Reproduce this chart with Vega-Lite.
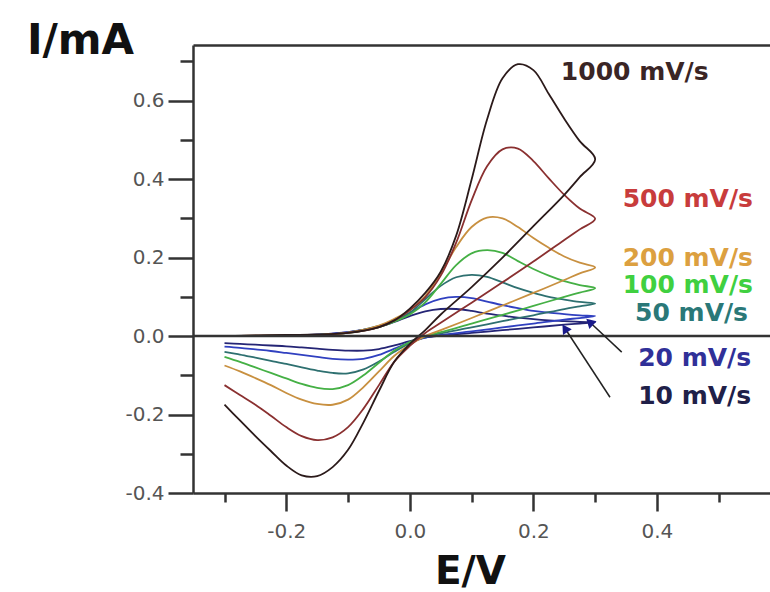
{
  "$schema": "https://vega.github.io/schema/vega-lite/v6.json",
  "width": 577,
  "height": 448,
  "autosize": {"type": "none"},
  "padding": {"left": 193, "top": 45, "right": 0, "bottom": 99},
  "background": "white",
  "config": {"view": {"stroke": null}},
  "datasets": {
    "cv": [
      {"s":"10","o":0,"E":-0.3,"I":0.000},{"s":"10","o":1,"E":-0.2,"I":0.001},{"s":"10","o":2,"E":-0.15,"I":0.004},{"s":"10","o":3,"E":-0.1,"I":0.010},{"s":"10","o":4,"E":-0.05,"I":0.023},{"s":"10","o":5,"E":-0.025,"I":0.036},{"s":"10","o":6,"E":0,"I":0.051},{"s":"10","o":7,"E":0.025,"I":0.063},{"s":"10","o":8,"E":0.05,"I":0.069},{"s":"10","o":9,"E":0.075,"I":0.069},{"s":"10","o":10,"E":0.1,"I":0.064},{"s":"10","o":11,"E":0.125,"I":0.057},{"s":"10","o":12,"E":0.15,"I":0.052},{"s":"10","o":13,"E":0.175,"I":0.047},{"s":"10","o":14,"E":0.2,"I":0.043},{"s":"10","o":15,"E":0.225,"I":0.040},{"s":"10","o":16,"E":0.25,"I":0.038},{"s":"10","o":17,"E":0.275,"I":0.036},{"s":"10","o":18,"E":0.3,"I":0.035},
      {"s":"10","o":19,"E":0.275,"I":0.032},{"s":"10","o":20,"E":0.25,"I":0.029},{"s":"10","o":21,"E":0.2,"I":0.022},{"s":"10","o":22,"E":0.15,"I":0.015},{"s":"10","o":23,"E":0.1,"I":0.008},{"s":"10","o":24,"E":0.05,"I":0.001},{"s":"10","o":25,"E":0.025,"I":-0.004},{"s":"10","o":26,"E":0,"I":-0.013},{"s":"10","o":27,"E":-0.025,"I":-0.024},{"s":"10","o":28,"E":-0.05,"I":-0.033},{"s":"10","o":29,"E":-0.075,"I":-0.037},{"s":"10","o":30,"E":-0.1,"I":-0.037},{"s":"10","o":31,"E":-0.125,"I":-0.035},{"s":"10","o":32,"E":-0.15,"I":-0.032},{"s":"10","o":33,"E":-0.175,"I":-0.029},{"s":"10","o":34,"E":-0.2,"I":-0.026},{"s":"10","o":35,"E":-0.225,"I":-0.024},{"s":"10","o":36,"E":-0.25,"I":-0.022},{"s":"10","o":37,"E":-0.275,"I":-0.020},{"s":"10","o":38,"E":-0.3,"I":-0.018},

      {"s":"20","o":0,"E":-0.3,"I":0.000},{"s":"20","o":1,"E":-0.2,"I":0.001},{"s":"20","o":2,"E":-0.15,"I":0.003},{"s":"20","o":3,"E":-0.1,"I":0.010},{"s":"20","o":4,"E":-0.05,"I":0.024},{"s":"20","o":5,"E":-0.025,"I":0.038},{"s":"20","o":6,"E":0,"I":0.059},{"s":"20","o":7,"E":0.025,"I":0.081},{"s":"20","o":8,"E":0.05,"I":0.095},{"s":"20","o":9,"E":0.075,"I":0.100},{"s":"20","o":10,"E":0.1,"I":0.097},{"s":"20","o":11,"E":0.125,"I":0.088},{"s":"20","o":12,"E":0.15,"I":0.079},{"s":"20","o":13,"E":0.175,"I":0.071},{"s":"20","o":14,"E":0.2,"I":0.064},{"s":"20","o":15,"E":0.225,"I":0.060},{"s":"20","o":16,"E":0.25,"I":0.056},{"s":"20","o":17,"E":0.275,"I":0.053},{"s":"20","o":18,"E":0.3,"I":0.051},
      {"s":"20","o":19,"E":0.275,"I":0.046},{"s":"20","o":20,"E":0.25,"I":0.042},{"s":"20","o":21,"E":0.2,"I":0.032},{"s":"20","o":22,"E":0.15,"I":0.022},{"s":"20","o":23,"E":0.1,"I":0.012},{"s":"20","o":24,"E":0.05,"I":0.003},{"s":"20","o":25,"E":0.025,"I":-0.004},{"s":"20","o":26,"E":0,"I":-0.016},{"s":"20","o":27,"E":-0.025,"I":-0.032},{"s":"20","o":28,"E":-0.05,"I":-0.048},{"s":"20","o":29,"E":-0.075,"I":-0.058},{"s":"20","o":30,"E":-0.1,"I":-0.060},{"s":"20","o":31,"E":-0.125,"I":-0.058},{"s":"20","o":32,"E":-0.15,"I":-0.053},{"s":"20","o":33,"E":-0.175,"I":-0.048},{"s":"20","o":34,"E":-0.2,"I":-0.043},{"s":"20","o":35,"E":-0.225,"I":-0.038},{"s":"20","o":36,"E":-0.25,"I":-0.034},{"s":"20","o":37,"E":-0.275,"I":-0.030},{"s":"20","o":38,"E":-0.3,"I":-0.027},

      {"s":"50","o":0,"E":-0.3,"I":0.000},{"s":"50","o":1,"E":-0.2,"I":0.001},{"s":"50","o":2,"E":-0.15,"I":0.003},{"s":"50","o":3,"E":-0.1,"I":0.009},{"s":"50","o":4,"E":-0.05,"I":0.026},{"s":"50","o":5,"E":-0.025,"I":0.038},{"s":"50","o":6,"E":0,"I":0.060},{"s":"50","o":7,"E":0.025,"I":0.094},{"s":"50","o":8,"E":0.05,"I":0.128},{"s":"50","o":9,"E":0.075,"I":0.150},{"s":"50","o":10,"E":0.1,"I":0.156},{"s":"50","o":11,"E":0.125,"I":0.151},{"s":"50","o":12,"E":0.15,"I":0.137},{"s":"50","o":13,"E":0.175,"I":0.122},{"s":"50","o":14,"E":0.2,"I":0.110},{"s":"50","o":15,"E":0.225,"I":0.100},{"s":"50","o":16,"E":0.25,"I":0.093},{"s":"50","o":17,"E":0.275,"I":0.087},{"s":"50","o":18,"E":0.3,"I":0.083},
      {"s":"50","o":19,"E":0.275,"I":0.076},{"s":"50","o":20,"E":0.25,"I":0.069},{"s":"50","o":21,"E":0.2,"I":0.053},{"s":"50","o":22,"E":0.15,"I":0.038},{"s":"50","o":23,"E":0.1,"I":0.022},{"s":"50","o":24,"E":0.05,"I":0.007},{"s":"50","o":25,"E":0.025,"I":-0.002},{"s":"50","o":26,"E":0,"I":-0.018},{"s":"50","o":27,"E":-0.025,"I":-0.040},{"s":"50","o":28,"E":-0.05,"I":-0.065},{"s":"50","o":29,"E":-0.075,"I":-0.085},{"s":"50","o":30,"E":-0.1,"I":-0.095},{"s":"50","o":31,"E":-0.125,"I":-0.094},{"s":"50","o":32,"E":-0.15,"I":-0.088},{"s":"50","o":33,"E":-0.175,"I":-0.080},{"s":"50","o":34,"E":-0.2,"I":-0.071},{"s":"50","o":35,"E":-0.225,"I":-0.063},{"s":"50","o":36,"E":-0.25,"I":-0.055},{"s":"50","o":37,"E":-0.275,"I":-0.047},{"s":"50","o":38,"E":-0.3,"I":-0.040},

      {"s":"100","o":0,"E":-0.3,"I":0.000},{"s":"100","o":1,"E":-0.2,"I":0.001},{"s":"100","o":2,"E":-0.15,"I":0.003},{"s":"100","o":3,"E":-0.1,"I":0.008},{"s":"100","o":4,"E":-0.05,"I":0.023},{"s":"100","o":5,"E":-0.025,"I":0.037},{"s":"100","o":6,"E":0,"I":0.055},{"s":"100","o":7,"E":0.025,"I":0.086},{"s":"100","o":8,"E":0.05,"I":0.133},{"s":"100","o":9,"E":0.075,"I":0.181},{"s":"100","o":10,"E":0.1,"I":0.211},{"s":"100","o":11,"E":0.125,"I":0.219},{"s":"100","o":12,"E":0.15,"I":0.212},{"s":"100","o":13,"E":0.175,"I":0.191},{"s":"100","o":14,"E":0.2,"I":0.171},{"s":"100","o":15,"E":0.225,"I":0.154},{"s":"100","o":16,"E":0.25,"I":0.140},{"s":"100","o":17,"E":0.275,"I":0.130},{"s":"100","o":18,"E":0.3,"I":0.122},
      {"s":"100","o":19,"E":0.275,"I":0.111},{"s":"100","o":20,"E":0.25,"I":0.100},{"s":"100","o":21,"E":0.2,"I":0.077},{"s":"100","o":22,"E":0.15,"I":0.054},{"s":"100","o":23,"E":0.1,"I":0.032},{"s":"100","o":24,"E":0.05,"I":0.010},{"s":"100","o":25,"E":0.025,"I":0.000},{"s":"100","o":26,"E":0,"I":-0.015},{"s":"100","o":27,"E":-0.025,"I":-0.037},{"s":"100","o":28,"E":-0.05,"I":-0.068},{"s":"100","o":29,"E":-0.075,"I":-0.100},{"s":"100","o":30,"E":-0.1,"I":-0.125},{"s":"100","o":31,"E":-0.125,"I":-0.135},{"s":"100","o":32,"E":-0.15,"I":-0.132},{"s":"100","o":33,"E":-0.175,"I":-0.122},{"s":"100","o":34,"E":-0.2,"I":-0.108},{"s":"100","o":35,"E":-0.225,"I":-0.094},{"s":"100","o":36,"E":-0.25,"I":-0.080},{"s":"100","o":37,"E":-0.275,"I":-0.066},{"s":"100","o":38,"E":-0.3,"I":-0.053},

      {"s":"200","o":0,"E":-0.3,"I":0.000},{"s":"200","o":1,"E":-0.2,"I":0.002},{"s":"200","o":2,"E":-0.15,"I":0.003},{"s":"200","o":3,"E":-0.1,"I":0.009},{"s":"200","o":4,"E":-0.05,"I":0.027},{"s":"200","o":5,"E":-0.025,"I":0.044},{"s":"200","o":6,"E":0,"I":0.066},{"s":"200","o":7,"E":0.025,"I":0.102},{"s":"200","o":8,"E":0.05,"I":0.160},{"s":"200","o":9,"E":0.075,"I":0.227},{"s":"200","o":10,"E":0.1,"I":0.278},{"s":"200","o":11,"E":0.125,"I":0.302},{"s":"200","o":12,"E":0.15,"I":0.300},{"s":"200","o":13,"E":0.175,"I":0.278},{"s":"200","o":14,"E":0.2,"I":0.250},{"s":"200","o":15,"E":0.225,"I":0.225},{"s":"200","o":16,"E":0.25,"I":0.203},{"s":"200","o":17,"E":0.275,"I":0.187},{"s":"200","o":18,"E":0.3,"I":0.175},
      {"s":"200","o":19,"E":0.275,"I":0.160},{"s":"200","o":20,"E":0.25,"I":0.143},{"s":"200","o":21,"E":0.2,"I":0.110},{"s":"200","o":22,"E":0.15,"I":0.078},{"s":"200","o":23,"E":0.1,"I":0.046},{"s":"200","o":24,"E":0.05,"I":0.015},{"s":"200","o":25,"E":0.025,"I":0.000},{"s":"200","o":26,"E":0,"I":-0.022},{"s":"200","o":27,"E":-0.025,"I":-0.050},{"s":"200","o":28,"E":-0.05,"I":-0.090},{"s":"200","o":29,"E":-0.075,"I":-0.130},{"s":"200","o":30,"E":-0.1,"I":-0.162},{"s":"200","o":31,"E":-0.125,"I":-0.175},{"s":"200","o":32,"E":-0.15,"I":-0.173},{"s":"200","o":33,"E":-0.175,"I":-0.162},{"s":"200","o":34,"E":-0.2,"I":-0.145},{"s":"200","o":35,"E":-0.225,"I":-0.125},{"s":"200","o":36,"E":-0.25,"I":-0.107},{"s":"200","o":37,"E":-0.275,"I":-0.090},{"s":"200","o":38,"E":-0.3,"I":-0.075},

      {"s":"500","o":0,"E":-0.3,"I":0.000},{"s":"500","o":1,"E":-0.2,"I":0.002},{"s":"500","o":2,"E":-0.15,"I":0.003},{"s":"500","o":3,"E":-0.1,"I":0.008},{"s":"500","o":4,"E":-0.05,"I":0.023},{"s":"500","o":5,"E":-0.025,"I":0.040},{"s":"500","o":6,"E":0,"I":0.066},{"s":"500","o":7,"E":0.025,"I":0.099},{"s":"500","o":8,"E":0.05,"I":0.154},{"s":"500","o":9,"E":0.075,"I":0.238},{"s":"500","o":10,"E":0.1,"I":0.346},{"s":"500","o":11,"E":0.125,"I":0.433},{"s":"500","o":12,"E":0.15,"I":0.476},{"s":"500","o":13,"E":0.175,"I":0.478},{"s":"500","o":14,"E":0.2,"I":0.446},{"s":"500","o":15,"E":0.225,"I":0.402},{"s":"500","o":16,"E":0.25,"I":0.360},{"s":"500","o":17,"E":0.275,"I":0.325},{"s":"500","o":18,"E":0.3,"I":0.299},
      {"s":"500","o":19,"E":0.275,"I":0.272},{"s":"500","o":20,"E":0.25,"I":0.245},{"s":"500","o":21,"E":0.2,"I":0.190},{"s":"500","o":22,"E":0.15,"I":0.137},{"s":"500","o":23,"E":0.1,"I":0.085},{"s":"500","o":24,"E":0.05,"I":0.034},{"s":"500","o":25,"E":0.025,"I":0.008},{"s":"500","o":26,"E":0,"I":-0.025},{"s":"500","o":27,"E":-0.025,"I":-0.065},{"s":"500","o":28,"E":-0.05,"I":-0.125},{"s":"500","o":29,"E":-0.075,"I":-0.185},{"s":"500","o":30,"E":-0.1,"I":-0.232},{"s":"500","o":31,"E":-0.125,"I":-0.258},{"s":"500","o":32,"E":-0.15,"I":-0.265},{"s":"500","o":33,"E":-0.175,"I":-0.255},{"s":"500","o":34,"E":-0.2,"I":-0.232},{"s":"500","o":35,"E":-0.225,"I":-0.203},{"s":"500","o":36,"E":-0.25,"I":-0.175},{"s":"500","o":37,"E":-0.275,"I":-0.150},{"s":"500","o":38,"E":-0.3,"I":-0.125},

      {"s":"1000","o":0,"E":-0.3,"I":0.000},{"s":"1000","o":1,"E":-0.2,"I":0.003},{"s":"1000","o":2,"E":-0.15,"I":0.004},{"s":"1000","o":3,"E":-0.1,"I":0.008},{"s":"1000","o":4,"E":-0.05,"I":0.023},{"s":"1000","o":5,"E":-0.025,"I":0.040},{"s":"1000","o":6,"E":0,"I":0.070},{"s":"1000","o":7,"E":0.025,"I":0.110},{"s":"1000","o":8,"E":0.05,"I":0.164},{"s":"1000","o":9,"E":0.075,"I":0.256},{"s":"1000","o":10,"E":0.1,"I":0.399},{"s":"1000","o":11,"E":0.125,"I":0.552},{"s":"1000","o":12,"E":0.15,"I":0.657},{"s":"1000","o":13,"E":0.175,"I":0.693},{"s":"1000","o":14,"E":0.2,"I":0.678},{"s":"1000","o":15,"E":0.225,"I":0.617},{"s":"1000","o":16,"E":0.25,"I":0.554},{"s":"1000","o":17,"E":0.275,"I":0.497},{"s":"1000","o":18,"E":0.3,"I":0.451},
      {"s":"1000","o":19,"E":0.275,"I":0.405},{"s":"1000","o":20,"E":0.25,"I":0.360},{"s":"1000","o":21,"E":0.2,"I":0.280},{"s":"1000","o":22,"E":0.15,"I":0.200},{"s":"1000","o":23,"E":0.1,"I":0.125},{"s":"1000","o":24,"E":0.05,"I":0.055},{"s":"1000","o":25,"E":0.025,"I":0.015},{"s":"1000","o":26,"E":0,"I":-0.020},{"s":"1000","o":27,"E":-0.025,"I":-0.065},{"s":"1000","o":28,"E":-0.05,"I":-0.140},{"s":"1000","o":29,"E":-0.075,"I":-0.220},{"s":"1000","o":30,"E":-0.1,"I":-0.290},{"s":"1000","o":31,"E":-0.125,"I":-0.334},{"s":"1000","o":32,"E":-0.15,"I":-0.357},{"s":"1000","o":33,"E":-0.175,"I":-0.355},{"s":"1000","o":34,"E":-0.2,"I":-0.330},{"s":"1000","o":35,"E":-0.225,"I":-0.293},{"s":"1000","o":36,"E":-0.25,"I":-0.255},{"s":"1000","o":37,"E":-0.275,"I":-0.215},{"s":"1000","o":38,"E":-0.3,"I":-0.175}
    ],
    "labels": [
      {"s":"1000","label":"1000 mV/s","E":0.364,"I":0.673},
      {"s":"500","label":"500 mV/s","E":0.45,"I":0.349},
      {"s":"200","label":"200 mV/s","E":0.45,"I":0.2},
      {"s":"100","label":"100 mV/s","E":0.45,"I":0.13},
      {"s":"50","label":"50 mV/s","E":0.456,"I":0.058},
      {"s":"20","label":"20 mV/s","E":0.461,"I":-0.056},
      {"s":"10","label":"10 mV/s","E":0.461,"I":-0.153}
    ],
    "arrows": [
      {"s":"20","E":0.343,"I":-0.041,"E2":0.291,"I2":0.036},
      {"s":"10","E":0.324,"I":-0.156,"E2":0.251,"I2":0.02}
    ],
    "zero": [{"I": 0}]
  },
  "layer": [
    {
      "data": {"name": "cv"},
      "mark": {"type": "line", "interpolate": "catmull-rom"},
      "encoding": {
        "x": {
          "field": "E", "type": "quantitative",
          "scale": {"domain": [-0.351, 0.583], "nice": false, "zero": false},
          "axis": {
            "orient": "bottom",
            "values": [-0.3, -0.2, -0.1, 0, 0.1, 0.2, 0.3, 0.4, 0.5],
            "labelExpr": "round(datum.value*10) % 2 == 0 ? replace(format(datum.value, '.1f'), '\u2212', '-') : ''",
            "tickSize": {"condition": {"test": "round(datum.value*10) % 2 == 0", "value": 18}, "value": 9},
            "tickColor": "#333", "tickWidth": 2.5,
            "domainColor": "#333", "domainWidth": 2.5,
            "labelFont": "DejaVu Sans", "labelFontSize": 20, "labelColor": "#555", "labelPadding": 10,
            "grid": false,
            "title": "E/V",
            "titleFont": "DejaVu Sans", "titleFontSize": 39, "titleFontWeight": "bold", "titleColor": "#111",
            "titleX": 277, "titleY": 78, "titleAlign": "center", "titleBaseline": "middle"
          }
        },
        "y": {
          "field": "I", "type": "quantitative",
          "scale": {"domain": [-0.4, 0.742], "nice": false, "zero": false},
          "axis": {
            "values": [-0.4, -0.3, -0.2, -0.1, 0, 0.1, 0.2, 0.3, 0.4, 0.5, 0.6, 0.7],
            "labelExpr": "round(datum.value*10) % 2 == 0 ? replace(format(datum.value, '.1f'), '\u2212', '-') : ''",
            "tickSize": {"condition": {"test": "round(datum.value*10) % 2 == 0", "value": 25}, "value": 13},
            "tickColor": "#333", "tickWidth": 2.5,
            "domainColor": "#333", "domainWidth": 2.5,
            "labelFont": "DejaVu Sans", "labelFontSize": 20, "labelColor": "#555", "labelPadding": 4,
            "grid": false,
            "title": "I/mA",
            "titleFont": "DejaVu Sans", "titleFontSize": 42, "titleFontWeight": "bold", "titleColor": "#111",
            "titleAngle": 0, "titleX": -113, "titleY": -5, "titleAlign": "center", "titleBaseline": "middle"
          }
        },
        "order": {"field": "o", "type": "quantitative"},
        "color": {
          "field": "s", "type": "nominal", "legend": null,
          "scale": {"domain": ["10","20","50","100","200","500","1000"],
                    "range": ["#252575","#3040c0","#2e7070","#45b045","#c89040","#8a3030","#2b1a1a"]}
        },
        "strokeWidth": {
          "field": "s", "type": "nominal", "legend": null,
          "scale": {"domain": ["10","20","50","100","200","500","1000"],
                    "range": [1.8,1.8,1.8,1.8,1.8,1.8,3]}
        }
      }
    },
    {
      "data": {"name": "zero"},
      "mark": {"type": "rule", "color": "#333", "strokeWidth": 2.5},
      "encoding": {"y": {"field": "I", "type": "quantitative"}}
    },
    {
      "data": {"name": "arrows"},
      "mark": {"type": "rule", "color": "#222", "strokeWidth": 1.5},
      "encoding": {
        "x": {"field": "E", "type": "quantitative", "axis": null},
        "y": {"field": "I", "type": "quantitative"},
        "x2": {"field": "E2"},
        "y2": {"field": "I2"}
      }
    },
    {
      "data": {"name": "arrows"},
      "transform": [{"filter": "datum.s == '20'"}],
      "mark": {"type": "point", "shape": "triangle-up", "filled": true, "color": "#1a1a8a", "size": 110, "angle": 313, "opacity": 1},
      "encoding": {
        "x": {"field": "E2", "type": "quantitative", "axis": null},
        "y": {"field": "I2", "type": "quantitative"}
      }
    },
    {
      "data": {"name": "arrows"},
      "transform": [{"filter": "datum.s == '10'"}],
      "mark": {"type": "point", "shape": "triangle-up", "filled": true, "color": "#1a1a8a", "size": 110, "angle": 327, "opacity": 1},
      "encoding": {
        "x": {"field": "E2", "type": "quantitative", "axis": null},
        "y": {"field": "I2", "type": "quantitative"}
      }
    },
    {
      "data": {"name": "labels"},
      "mark": {"type": "text", "font": "DejaVu Sans", "fontSize": 25, "fontWeight": "bold", "align": "center", "baseline": "middle"},
      "encoding": {
        "x": {
          "field": "E", "type": "quantitative",
          "axis": {"orient": "top", "labels": false, "ticks": false, "title": null, "grid": false, "domain": true, "domainColor": "#333", "domainWidth": 2.5}
        },
        "y": {"field": "I", "type": "quantitative"},
        "text": {"field": "label"},
        "color": {
          "field": "s", "type": "nominal", "legend": null,
          "scale": {"domain": ["10","20","50","100","200","500","1000"],
                    "range": ["#202048","#303098","#2a7878","#40d040","#dca040","#c83c3c","#3a2525"]}
        }
      }
    }
  ],
  "resolve": {"axis": {"x": "independent"}, "scale": {"color": "independent"}}
}
